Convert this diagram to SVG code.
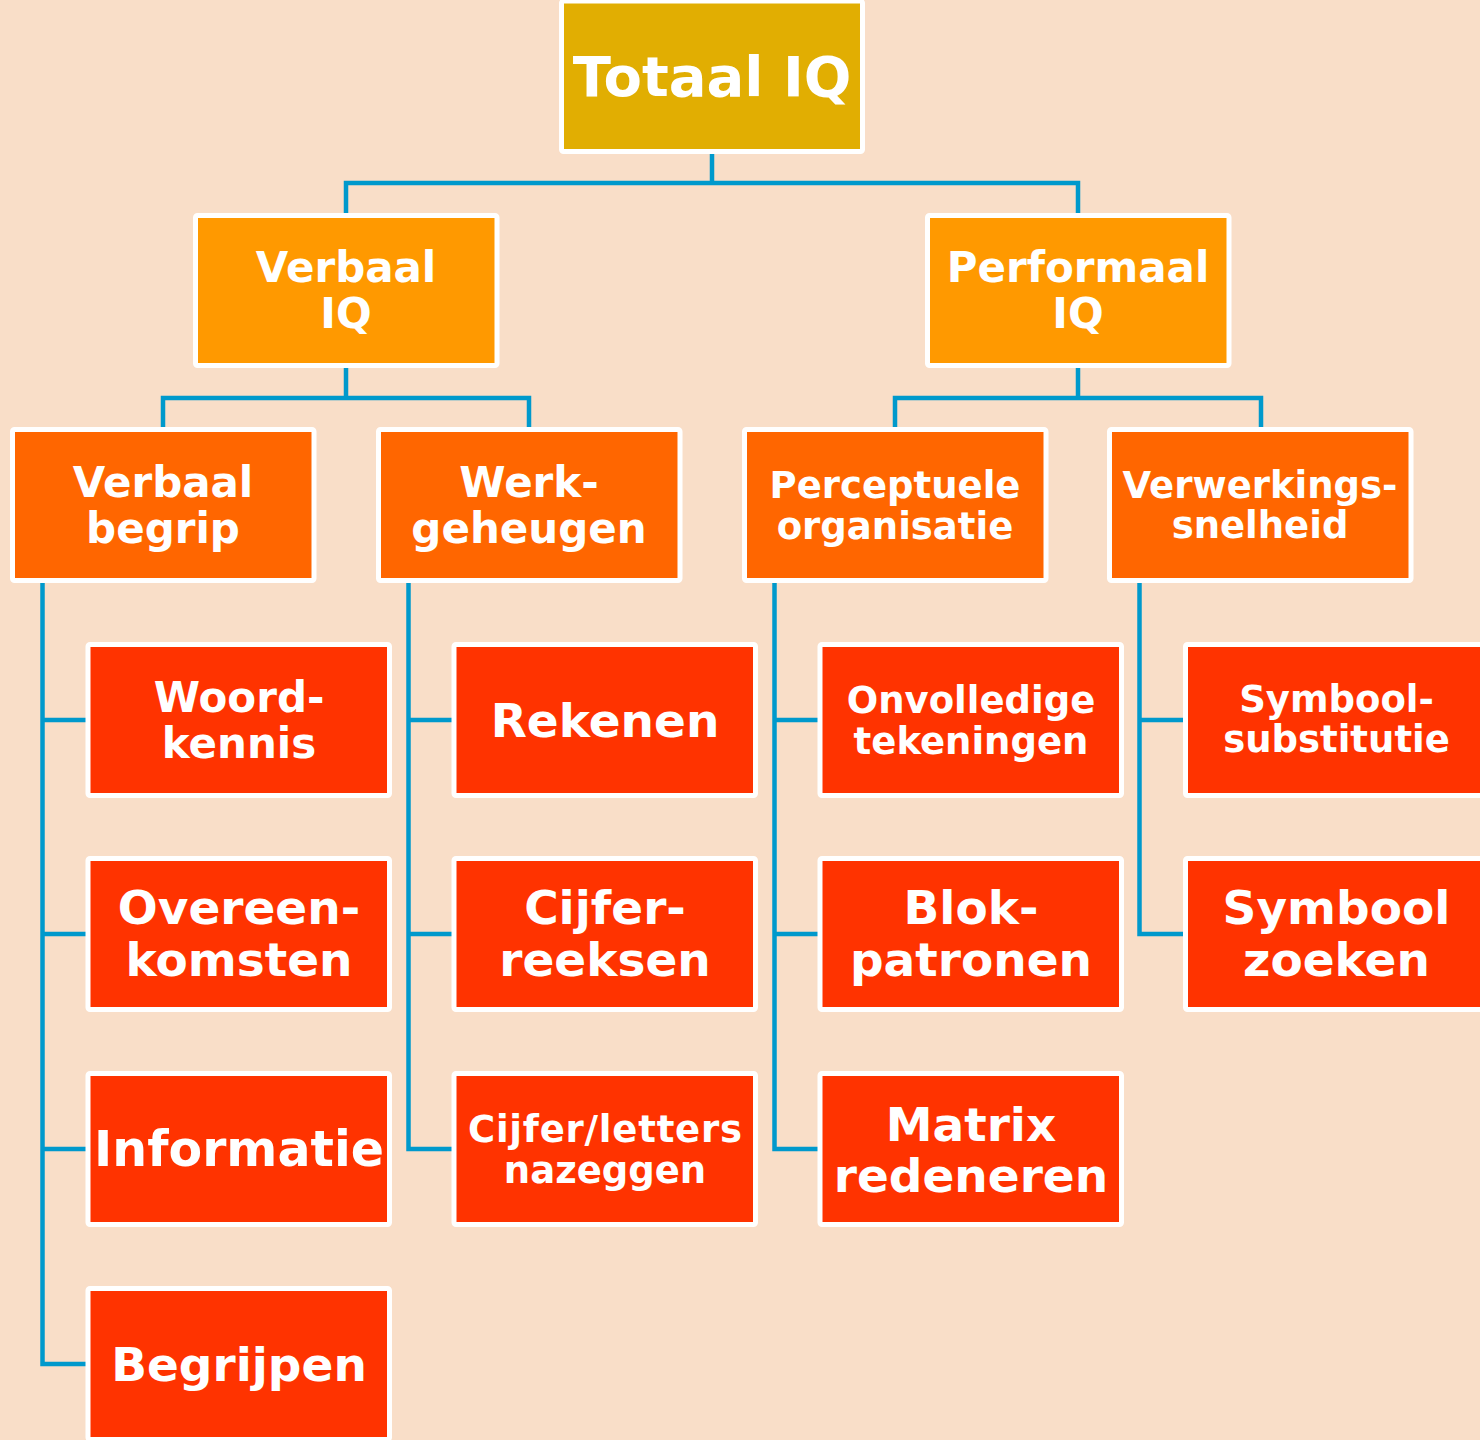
<svg xmlns="http://www.w3.org/2000/svg" width="1480" height="1440" viewBox="0 0 1480 1440">
<style>
.bx{stroke:#ffffff;stroke-width:5}
.l1{fill:#e1ae02}
.l2{fill:#ff9900}
.l3{fill:#ff6600}
.l4{fill:#ff3300}
text{font-family:"DejaVu Sans","Verdana",sans-serif;font-weight:bold;fill:#ffffff;text-anchor:middle}
.f56{font-size:56px}
.f42{font-size:42px}
.f37{font-size:37px}
.f47{font-size:47px}
.f49{font-size:49px}
.cn{fill:none;stroke:#0099cc;stroke-width:4.5;stroke-linejoin:miter}
</style>
<rect width="1480" height="1440" fill="#f9dec8"/>
<g id="connectors">
<path class="cn" d="M712,152 V183 M346,214 V183 H1078 V214"/>
<path class="cn" d="M346,365 V398 M163,428 V398 H529 V428"/>
<path class="cn" d="M1078,365 V398 M895,428 V398 H1261 V428"/>
<path class="cn" d="M42.5,580 V1364 H88 M42.5,720 H88 M42.5,934 H88 M42.5,1149 H88"/>
<path class="cn" d="M408.5,580 V1149 H454 M408.5,720 H454 M408.5,934 H454"/>
<path class="cn" d="M774.5,580 V1149 H820 M774.5,720 H820 M774.5,934 H820"/>
<path class="cn" d="M1139.5,580 V934 H1185 M1139.5,720 H1185"/>
</g>
<g id="totaal-iq"><rect class="bx l1" x="561.5" y="1" width="301" height="150.5" rx="2"/><text class="f56" x="712" y="96">Totaal IQ</text></g>
<g id="verbaal-iq"><rect class="bx l2" x="195.5" y="215.5" width="301.5" height="150" rx="2"/><text class="f42" x="346" y="282">Verbaal</text><text class="f42" x="346" y="328">IQ</text></g>
<g id="performaal-iq"><rect class="bx l2" x="927.5" y="215.5" width="301.5" height="150" rx="2"/><text class="f42" x="1078" y="282">Performaal</text><text class="f42" x="1078" y="328">IQ</text></g>
<g id="verbaal-begrip"><rect class="bx l3" x="12.5" y="429.5" width="301.5" height="151" rx="2"/><text class="f42" x="163" y="497">Verbaal</text><text class="f42" x="163" y="543">begrip</text></g>
<g id="werkgeheugen"><rect class="bx l3" x="378.5" y="429.5" width="301.5" height="151" rx="2"/><text class="f42" x="529" y="497">Werk-</text><text class="f42" x="529" y="543">geheugen</text></g>
<g id="perceptuele-organisatie"><rect class="bx l3" x="744.5" y="429.5" width="301.5" height="151" rx="2"/><text class="f37" x="895" y="498">Perceptuele</text><text class="f37" x="895" y="539">organisatie</text></g>
<g id="verwerkingssnelheid"><rect class="bx l3" x="1109.5" y="429.5" width="301.5" height="151" rx="2"/><text class="f37" x="1260" y="498">Verwerkings-</text><text class="f37" x="1260" y="538">snelheid</text></g>
<g id="woordkennis"><rect class="bx l4" x="88" y="644.5" width="301.5" height="151" rx="2"/><text class="f42" x="239" y="712">Woord-</text><text class="f42" x="239" y="758">kennis</text></g>
<g id="overeenkomsten"><rect class="bx l4" x="88" y="858.5" width="301.5" height="151" rx="2"/><text class="f47" x="239" y="924">Overeen-</text><text class="f47" x="239" y="976">komsten</text></g>
<g id="informatie"><rect class="bx l4" x="88" y="1073.5" width="301.5" height="151" rx="2"/><text class="f49" x="239" y="1166">Informatie</text></g>
<g id="begrijpen"><rect class="bx l4" x="88" y="1288.5" width="301.5" height="151" rx="2"/><text class="f47" x="239" y="1381">Begrijpen</text></g>
<g id="rekenen"><rect class="bx l4" x="454" y="644.5" width="301.5" height="151" rx="2"/><text class="f47" x="605" y="737">Rekenen</text></g>
<g id="cijferreeksen"><rect class="bx l4" x="454" y="858.5" width="301.5" height="151" rx="2"/><text class="f47" x="605" y="924">Cijfer-</text><text class="f47" x="605" y="976">reeksen</text></g>
<g id="cijfer-letters-nazeggen"><rect class="bx l4" x="454" y="1073.5" width="301.5" height="151" rx="2"/><text class="f37" x="605" y="1142" textLength="274">Cijfer/letters</text><text class="f37" x="605" y="1183">nazeggen</text></g>
<g id="onvolledige-tekeningen"><rect class="bx l4" x="820" y="644.5" width="301.5" height="151" rx="2"/><text class="f37" x="971" y="713">Onvolledige</text><text class="f37" x="971" y="754">tekeningen</text></g>
<g id="blokpatronen"><rect class="bx l4" x="820" y="858.5" width="301.5" height="151" rx="2"/><text class="f47" x="971" y="924">Blok-</text><text class="f47" x="971" y="976">patronen</text></g>
<g id="matrix-redeneren"><rect class="bx l4" x="820" y="1073.5" width="301.5" height="151" rx="2"/><text class="f47" x="971" y="1141">Matrix</text><text class="f47" x="971" y="1192">redeneren</text></g>
<g id="symboolsubstitutie"><rect class="bx l4" x="1185.5" y="644.5" width="301.5" height="151" rx="2"/><text class="f37" x="1336.5" y="712">Symbool-</text><text class="f37" x="1336.5" y="752">substitutie</text></g>
<g id="symbool-zoeken"><rect class="bx l4" x="1185.5" y="858.5" width="301.5" height="151" rx="2"/><text class="f47" x="1336.5" y="924">Symbool</text><text class="f47" x="1336.5" y="976">zoeken</text></g>
</svg>
